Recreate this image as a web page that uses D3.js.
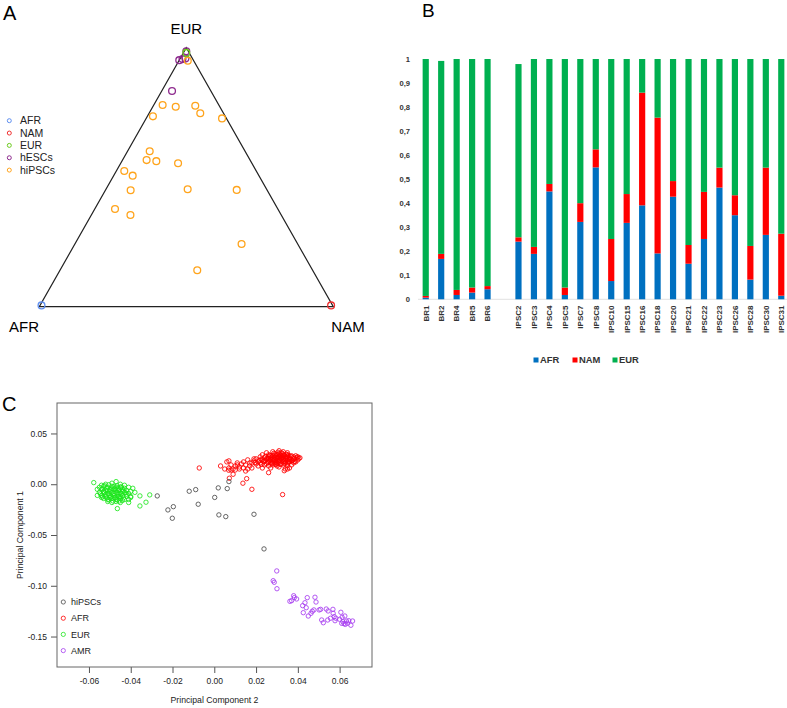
<!DOCTYPE html>
<html><head><meta charset="utf-8">
<script src="https://cdn.jsdelivr.net/npm/d3@7"></script>
<style>body{margin:0;background:#fff} svg{display:block;background:#fff} text{font-family:"Liberation Sans",Arial,Helvetica,sans-serif}</style>
</head><body><svg id="c" width="787" height="708"></svg>
<script>
// ---------- Panel A : ternary (fractions AFR, NAM, EUR) ----------
const ternLegend = ["AFR", "NAM", "EUR", "hESCs", "hiPSCs"];
const ternRefAFR = [[0.99, 0.005, 0.005]];
const ternRefNAM = [[0.005, 0.99, 0.005]];
const ternRefEUR = [[0.01, 0.01, 0.98]];
const ternHESC = [[0.007, 0.007, 0.986], [0.048, 0.0, 0.952], [0.035, 0.009, 0.956], [0.024, 0.018, 0.958], [0.132, 0.035, 0.833]];
const ternHIPSC = [
  [0.191, 0.030, 0.779], [0.150, 0.078, 0.772], [0.0815, 0.1425, 0.776], [0.079, 0.174, 0.747],
  [0.015, 0.258, 0.727], [0.246, 0.019, 0.735], [0.3245, 0.0755, 0.600], [0.352, 0.082, 0.566],
  [0.321, 0.117, 0.562], [0.251, 0.195, 0.554], [0.449, 0.027, 0.524], [0.4294, 0.0646, 0.506],
  [0.4646, 0.086, 0.4494], [0.2687, 0.278, 0.4533], [0.103, 0.446, 0.451], [0.554, 0.069, 0.377],
  [0.513, 0.133, 0.354], [0.191, 0.567, 0.242], [0.3925, 0.467, 0.1405], [0.020, 0.030, 0.950]
];

// ---------- Panel B : stacked bars ----------
const barCats = ["BR1","BR2","BR4","BR5","BR6","","IPSC2","IPSC3","IPSC4","IPSC5","IPSC7","IPSC8","IPSC10","IPSC15","IPSC16","IPSC18","IPSC20","IPSC21","IPSC22","IPSC23","IPSC26","IPSC28","IPSC30","IPSC31"];
const barAFR = [0.007,0.168,0.018,0.028,0.042,0, 0.240,0.189,0.449,0.018,0.322,0.549,0.076,0.318,0.391,0.191,0.427,0.148,0.251,0.465,0.350,0.082,0.268,0.015];
const barNAM = [0.007,0.021,0.021,0.021,0.013,0, 0.018,0.029,0.031,0.031,0.078,0.075,0.175,0.120,0.469,0.565,0.065,0.078,0.196,0.083,0.083,0.140,0.280,0.258];
const barEUR = [0.986,0.803,0.961,0.951,0.945,0, 0.721,0.782,0.520,0.951,0.600,0.376,0.749,0.562,0.140,0.244,0.508,0.774,0.553,0.452,0.567,0.778,0.452,0.727];
const barTicks = [0,0.1,0.2,0.3,0.4,0.5,0.6,0.7,0.8,0.9,1];
const barTickLabels = ["0","0,1","0,2","0,3","0,4","0,5","0,6","0,7","0,8","0,9","1"];
const barKeys = ["AFR","NAM","EUR"];

// ---------- Panel C : PCA (PC2, PC1) ----------
const pcaLegend = ["hiPSCs","AFR","EUR","AMR"];
const pcaTicksX = [-0.06,-0.04,-0.02,0.00,0.02,0.04,0.06];
const pcaTicksY = [0.05,0.00,-0.05,-0.10,-0.15];
const pcaHIPSC = [[-0.0273,-0.0115],[-0.0222,-0.0253],[-0.0196,-0.0221],[-0.0201,-0.0335],[-0.0120,-0.0069],[-0.0089,-0.0053],[-0.0077,-0.0197],[0.0002,-0.0130],[0.0019,-0.0036],[0.0022,-0.0302],[0.0055,-0.0319],[0.0062,-0.0043],[0.0070,0.0026],[0.0190,-0.0296],[0.0238,-0.0637]];
const pcaAFR = [
 [.025,.031],[.028,.032],[.031,.033],[.033,.032],[.035,.031],[.029,.030],[.032,.031],
 [.023,.029],[.026,.029],[.028,.028],[.030,.029],[.033,.029],[.035,.029],[.037,.028],[.039,.028],
 [.022,.027],[.024,.026],[.026,.027],[.027,.026],[.029,.027],[.031,.027],[.032,.026],[.034,.027],[.036,.026],[.038,.027],[.040,.027],[.041,.026],
 [.020,.025],[.023,.024],[.025,.025],[.027,.024],[.028,.025],[.030,.025],[.031,.024],[.033,.025],[.035,.024],[.036,.025],[.038,.025],[.040,.024],
 [.019,.023],[.021,.022],[.024,.023],[.026,.022],[.028,.023],[.029,.022],[.031,.023],[.033,.022],[.034,.023],[.036,.022],[.037,.023],[.039,.022],
 [.018,.021],[.020,.020],[.022,.021],[.025,.020],[.027,.021],[.029,.020],[.030,.021],[.032,.020],[.034,.021],[.035,.020],[.038,.021],
 [.021,.018],[.024,.019],[.026,.018],[.028,.019],[.030,.018],[.033,.019],[.035,.018],[.037,.019],
 [.023,.016],[.027,.016],[.031,.017],[.034,.015],[.036,.016],
 [.030,.026],[.032,.028],[.029,.024],[.031,.022],[.033,.024],[.027,.028],[.034,.025],[.030,.023],[.028,.021],[.032,.025],[.035,.027],[.031,.030],[.029,.026],[.033,.027],[.036,.024],[.026,.025],
 [.0245,.0275],[.0265,.0285],[.0285,.0305],[.0305,.0315],[.0325,.0305],[.0345,.0295],[.0365,.0275],[.0385,.0255],[.0375,.0235],[.0355,.0215],
 [.0335,.0205],[.0315,.0195],[.0295,.0195],[.0275,.0205],[.0255,.0215],[.0235,.0225],[.0225,.0245],[.0245,.0235],[.0265,.0235],[.0285,.0245],
 [.0305,.0265],[.0325,.0265],[.0345,.0265],[.0365,.0245],[.0355,.0225],[.0335,.0225],[.0315,.0255],[.0295,.0285],[.0275,.0265],[.0255,.0255],
 [.0315,.0285],[.0335,.0285],[.0355,.0285],[.0305,.0205],[.0395,.0265],[.0405,.0255],[.0215,.0235],[.0195,.0215],[.0225,.0195],[.0385,.0225],
 [.003,.018],[.005,.015],[.006,.022],[.007,.016],[.008,.019],[.009,.015],[.010,.018],[.011,.021],[.012,.017],[.013,.020],[.014,.016],[.014,.022],[.015,.019],[.016,.015],[.016,.024],[.017,.018],[.018,.016],[.019,.025],[.012,.015],[.010,.014],[.015,.013],[.017,.021],[.008,.014],[.011,.019],
 [-.0072,.016],[.0069,.0138],[.0070,.023],[.0072,.0059],[.0090,.0098],[.0137,.0010],[.0155,.0055],[.0180,-.0050],[.0327,-.0102],[.0260,.0114],[.0335,.0133],[.0350,.0150]
];
const pcaEUR = [
 [-.0577,.0016],[-.047,.0026],[-.0464,-.024],[-.041,-.018],[-.0356,-.0115],[-.0309,-.0105],[-.0327,-.0177],[-.0356,-.0214],[-.039,-.004],[-.040,-.012],[-.038,-.008],
 [-.052,.000],[-.049,.001],[-.045,.000],[-.043,-.001],[-.054,-.001],
 [-.055,-.003],[-.053,-.002],[-.051,-.003],[-.049,-.002],[-.047,-.003],[-.045,-.003],[-.043,-.004],[-.041,-.003],
 [-.056,-.005],[-.054,-.005],[-.052,-.006],[-.050,-.005],[-.048,-.005],[-.046,-.006],[-.044,-.005],[-.042,-.006],[-.040,-.007],
 [-.055,-.008],[-.053,-.008],[-.051,-.009],[-.049,-.008],[-.047,-.008],[-.045,-.009],[-.043,-.008],[-.041,-.009],
 [-.056,-.011],[-.054,-.011],[-.052,-.012],[-.050,-.011],[-.048,-.011],[-.046,-.012],[-.044,-.011],[-.042,-.012],[-.040,-.013],
 [-.053,-.014],[-.051,-.015],[-.049,-.014],[-.047,-.015],[-.045,-.014],[-.043,-.015],[-.041,-.015],
 [-.051,-.017],[-.049,-.018],[-.047,-.017],[-.045,-.018],[-.044,-.016],
 [-.050,-.007],[-.048,-.009],[-.046,-.010],[-.052,-.010],[-.050,-.013],[-.047,-.006],[-.044,-.007],[-.049,-.004],[-.051,-.006],[-.045,-.012],[-.048,-.013],[-.053,-.007],[-.046,-.004],[-.042,-.010],[-.048,-.002],[-.054,-.013],
 [-.0535,-.0045],[-.0515,-.0035],[-.0495,-.0055],[-.0475,-.0045],[-.0455,-.0055],[-.0435,-.0065],[-.0545,-.0095],[-.0525,-.0085],[-.0505,-.0095],
 [-.0485,-.0105],[-.0465,-.0085],[-.0445,-.0095],[-.0425,-.0085],[-.0535,-.0125],[-.0515,-.0135],[-.0495,-.0125],[-.0475,-.0135],[-.0455,-.0125],
 [-.0435,-.0135],[-.0505,-.0155],[-.0485,-.0165],[-.0465,-.0155],[-.0455,-.0165],[-.0525,-.0015],[-.0505,-.0005],[-.0465,-.0015],[-.0445,-.0025]
];
const pcaAMR = [
 [.0299,-.0854],[.0282,-.0950],[.0287,-.0966],[.0300,-.1029],[.0362,-.1153],[.0370,-.1147],[.0380,-.1098],[.0383,-.1117],[.0394,-.1130],
 [.0423,-.1196],[.0434,-.1167],[.0445,-.1117],[.0440,-.1216],[.0426,-.1265],[.0450,-.1298],[.0463,-.1271],[.0469,-.1251],[.0477,-.1238],
 [.0482,-.1113],[.0487,-.1160],[.0502,-.1238],[.0509,-.1232],[.0514,-.1337],[.0522,-.1364],[.0536,-.1229],[.0543,-.1337],[.0545,-.1248],
 [.0568,-.1232],[.0569,-.1271],[.0574,-.1304],[.0578,-.1344],[.0582,-.1320],[.0606,-.1261],[.0612,-.1310],[.0616,-.1354],[.0621,-.1373],
 [.0625,-.1298],[.0633,-.1347],[.0638,-.1369],[.0644,-.1344],[.0654,-.1389],[.0662,-.1347],[.0610,-.1370],[.0627,-.1380],[.0600,-.1330],[.0556,-.1320]
];

const svg = d3.select("#c");
const font = '"Liberation Sans",Arial,Helvetica,sans-serif';

// ================= Panel A =================
const A = svg.append("g");
A.append("text").attr("x", 3).attr("y", 20).attr("font-size", 20).text("A");
const tx = d3.scaleLinear().domain([0, 1]).range([39.3, 333.3]);
const ty = d3.scaleLinear().domain([0, 1]).range([306.7, 47.7]);
const tpos = d => [tx(d[1] + d[2] / 2), ty(d[2])];
const verts = [[1,0,0],[0,1,0],[0,0,1]].map(tpos);
A.append("path").attr("d", "M" + verts.map(v => v.join(",")).join("L") + "Z")
  .attr("fill", "none").attr("stroke", "#222").attr("stroke-width", 1.2);
A.append("text").attr("x", tx(0.5)).attr("y", 34).attr("text-anchor", "middle").attr("font-size", 15).text("EUR");
A.append("text").attr("x", 24).attr("y", 332).attr("text-anchor", "middle").attr("font-size", 15).text("AFR");
A.append("text").attr("x", 348).attr("y", 332).attr("text-anchor", "middle").attr("font-size", 15).text("NAM");
const ternColors = ["#5f8ff0", "#f03030", "#6ccb1e", "#8e2b8e", "#ffa41c"];
const ternSets = [ternRefAFR, ternRefNAM, ternRefEUR, ternHESC, ternHIPSC];
[0, 1, 3, 4, 2].forEach(k => {
  A.selectAll(null).data(ternSets[k]).enter().append("circle")
    .attr("cx", d => tpos(d)[0]).attr("cy", d => tpos(d)[1]).attr("r", 3.4)
    .attr("fill", "none").attr("stroke", ternColors[k]).attr("stroke-width", 1.3);
});
const la = A.append("g");
ternLegend.forEach((t, i) => {
  const y = 120.7 + i * 12.35;
  la.append("circle").attr("cx", 9.3).attr("cy", y).attr("r", 2).attr("fill", "none").attr("stroke", ternColors[i]).attr("stroke-width", 1);
  la.append("text").attr("x", 20).attr("y", y).attr("dy", "0.35em").attr("font-size", 10.5).attr("fill", "#222").text(t);
});

// ================= Panel B =================
const B = svg.append("g");
B.append("text").attr("x", 422).attr("y", 17).attr("font-size", 19).text("B");
const xB = d3.scaleBand().domain(barCats.map((c, i) => i)).range([418, 789]).paddingInner(0.6).paddingOuter(0.3);
const yB = d3.scaleLinear().domain([0, 1]).range([299.3, 59]);
const barRows = barCats.map((c, i) => ({i: i, AFR: barAFR[i], NAM: barNAM[i], EUR: barEUR[i]}));
const stacked = d3.stack().keys(barKeys)(barRows);
const barColors = {AFR: "#0070c0", NAM: "#ff0000", EUR: "#00b050"};
B.append("line").attr("x1", 418).attr("x2", 787).attr("y1", yB(0)).attr("y2", yB(0)).attr("stroke", "#d9d9d9").attr("stroke-width", 0.8);
stacked.forEach(layer => {
  B.selectAll(null).data(layer.filter(d => barCats[d.data.i] !== "")).enter().append("rect")
    .attr("x", d => xB(d.data.i)).attr("width", xB.bandwidth())
    .attr("y", d => yB(d[1])).attr("height", d => yB(d[0]) - yB(d[1]))
    .attr("fill", barColors[layer.key]);
});
const yAxisB = d3.axisLeft(yB).tickValues(barTicks).tickSize(0).tickPadding(0)
  .tickFormat((d, i) => barTickLabels[i]);
const gyB = B.append("g").attr("transform", "translate(410,0)").call(yAxisB);
gyB.select(".domain").remove();
gyB.selectAll("text").attr("font-family", font).attr("font-weight", "bold").attr("font-size", 7.6).attr("fill", "#333");
B.selectAll(null).data(barCats.map((c, i) => ({c, i})).filter(d => d.c !== "")).enter().append("text")
  .attr("transform", d => `translate(${xB(d.i) + xB.bandwidth() / 2},305.5) rotate(-90)`)
  .attr("text-anchor", "end").attr("dy", "0.35em").attr("font-size", 8).attr("font-weight", "bold").attr("fill", "#333")
  .text(d => d.c);
const legB = [[536, "AFR"], [575, "NAM"], [615, "EUR"]];
barKeys.forEach((k, i) => {
  const x0 = legB[i][0];
  B.append("rect").attr("x", x0 - 2.5).attr("y", 357.5).attr("width", 5).attr("height", 5).attr("fill", barColors[k]);
  B.append("text").attr("x", x0 + 4).attr("y", 360).attr("dy", "0.35em").attr("font-size", 9.4).attr("font-weight", "bold").attr("fill", "#333").text(k);
});

// ================= Panel C =================
const C = svg.append("g");
C.append("text").attr("x", 2).attr("y", 411).attr("font-size", 20).text("C");
const xC = d3.scaleLinear().domain([-0.0753, 0.0755]).range([57, 372]);
const yC = d3.scaleLinear().domain([-0.18, 0.08]).range([667, 403]);
const gxC = C.append("g").attr("transform", "translate(0,667)")
  .call(d3.axisBottom(xC).tickValues(pcaTicksX).tickSize(6).tickPadding(5).tickFormat(d => d.toFixed(2)));
const gyC = C.append("g").attr("transform", "translate(57,0)")
  .call(d3.axisLeft(yC).tickValues(pcaTicksY).tickSize(6).tickPadding(4).tickFormat(d => d.toFixed(2)));
[gxC, gyC].forEach(g => {
  g.select(".domain").remove();
  g.selectAll("line").attr("stroke", "#555");
  g.selectAll("text").attr("font-family", font).attr("font-size", 8.5).attr("fill", "#222");
});
C.append("rect").attr("x", 57).attr("y", 403).attr("width", 315).attr("height", 264)
  .attr("fill", "none").attr("stroke", "#666").attr("stroke-width", 1);
C.append("text").attr("x", 214.5).attr("y", 703).attr("text-anchor", "middle").attr("font-size", 8.7).attr("fill", "#222").text("Principal Component 2");
C.append("text").attr("transform", "translate(23,535) rotate(-90)").attr("text-anchor", "middle").attr("font-size", 8.7).attr("fill", "#222").text("Principal Component 1");
const pcaColors = ["#4a4a4a", "#ff0000", "#1ee61e", "#a63cf0"];
const pcaSets = [[pcaEUR, 2], [pcaAFR, 1], [pcaAMR, 3], [pcaHIPSC, 0]];
pcaSets.forEach(([set, k]) => {
  C.selectAll(null).data(set).enter().append("circle")
    .attr("cx", d => xC(d[0])).attr("cy", d => yC(d[1])).attr("r", 2.2)
    .attr("fill", "none").attr("stroke", pcaColors[k]).attr("stroke-width", 0.85);
});
pcaLegend.forEach((t, i) => {
  const y = 602 + i * 16.2;
  C.append("circle").attr("cx", 63.3).attr("cy", y).attr("r", 2.1).attr("fill", "none").attr("stroke", pcaColors[i]).attr("stroke-width", 0.8);
  C.append("text").attr("x", 71).attr("y", y).attr("dy", "0.35em").attr("font-size", 9).attr("fill", "#222").text(t);
});
</script></body></html>
